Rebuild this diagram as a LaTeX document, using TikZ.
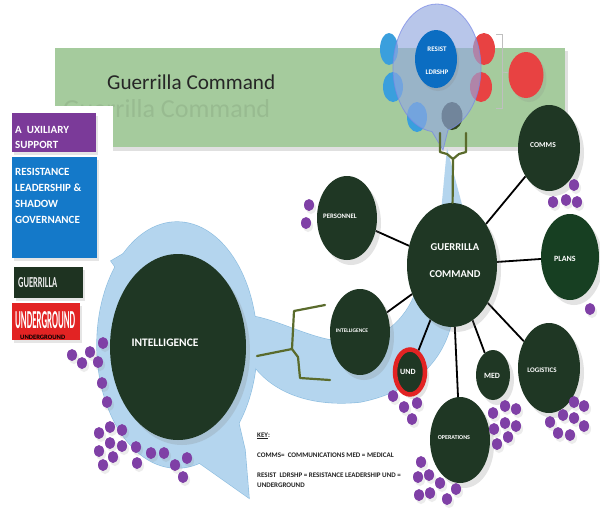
\documentclass[tikz,border=0pt]{standalone}
\usepackage{fontspec}
\setmainfont{Carlito}
\usetikzlibrary{shapes.geometric,shadows}
\definecolor{bannergreen}{HTML}{A5CB9D}
\definecolor{dkgreen}{HTML}{1F3724}
\definecolor{plansgreen}{HTML}{173F22}
\definecolor{purp}{HTML}{7F40A6}
\definecolor{ltblue}{HTML}{B4D5EE}
\definecolor{ltblueline}{HTML}{8CBDE0}
\definecolor{olivec}{HTML}{5A6B2C}
\definecolor{legpurple}{HTML}{7B3A99}
\definecolor{legblue}{HTML}{1479C9}
\definecolor{leggreen}{HTML}{1E3321}
\definecolor{legred}{HTML}{E22323}
\definecolor{rblue}{HTML}{3A9FDD}
\definecolor{rred}{HTML}{E84242}
\definecolor{resblue}{HTML}{0B6DC2}
\definecolor{bubblec}{HTML}{93A8E0}
\definecolor{keytext}{HTML}{222222}
\pgfdeclarelayer{back}
\pgfdeclarelayer{lines}
\pgfsetlayers{back,lines,main}
\begin{document}
\begin{tikzpicture}[x=1pt,y=-1pt,
  blob/.style={ellipse, fill=dkgreen, inner sep=0pt, drop shadow={shadow xshift=4pt, shadow yshift=-5pt, opacity=0.22}},
  lbl/.style={text=white, inner sep=0pt},
  conn/.style={draw=black, line width=1.8pt},
  bracel/.style={draw=olivec, line width=2.2pt, line join=round, line cap=round},
  dotp/.style={ellipse, fill=purp, inner sep=0pt, minimum width=10pt, minimum height=12pt, drop shadow={shadow xshift=2pt, shadow yshift=-3pt, opacity=0.15}},
  smc/.style={ellipse, inner sep=0pt},
  legbox/.style={rectangle, anchor=north west, inner sep=0pt, drop shadow={shadow xshift=2pt, shadow yshift=-3pt, opacity=0.2}},
  legtxt/.style={anchor=base west, inner sep=0pt, text=white, font=\bfseries\fontsize{11}{12}\selectfont},
  keyt/.style={anchor=base west, inner sep=0pt, text=keytext, font=\bfseries\fontsize{7}{7}\selectfont}
]
\useasboundingbox (0,0) rectangle (600,517);
\begin{pgfonlayer}{back}
  \fill[white] (0,0) rectangle (600,517);
  \fill[black, opacity=0.12] (58,51) rectangle (568,151);
  \fill[bannergreen] (55,48) rectangle (565,147);
  \node[anchor=base west, inner sep=0pt, text=black!60!bannergreen, opacity=0.13] (ghost) at (63,117) {\resizebox{207pt}{18pt}{Guerrilla Command}};
  % big light-blue callout: outline first, then fill
  \begin{scope}[draw=ltblueline, line width=1.2pt]
    \draw (177,345) ellipse [x radius=80, y radius=123];
    \draw (123,254) -- (111,261) -- (116,268) -- cycle;
    \draw (198,462) -- (249,498) -- (245,450) -- (238,420) -- cycle;
    \draw (252,316) .. controls (285,322) and (315,342) .. (350,342) .. controls (385,342) and (410,315) .. (418,285) -- (452,320) .. controls (445,355) and (420,390) .. (360,402) .. controls (300,408) and (265,385) .. (250,360) -- cycle;
  \end{scope}
  \begin{scope}[fill=ltblue]
    \fill (177,345) ellipse [x radius=80, y radius=123];
    \fill (123,254) -- (111,261) -- (116,268) -- cycle;
    \fill (198,462) -- (249,498) -- (245,450) -- (238,420) -- cycle;
    \fill (252,316) .. controls (285,322) and (315,342) .. (350,342) .. controls (385,342) and (410,315) .. (418,285) -- (452,320) .. controls (445,355) and (420,390) .. (360,402) .. controls (300,408) and (265,385) .. (250,360) -- cycle;
    \fill (447,148) -- (441,212) -- (464,212) -- cycle;
  \end{scope}
\end{pgfonlayer}

% title
\node[anchor=base west, inner sep=0pt, text=black!85] (title) at (107,89) {\resizebox{168pt}{!}{Guerrilla Command}};

% legend
\fill[white] (10,106) rectangle (113,152);
\node[legbox, fill=legpurple, minimum width=84pt, minimum height=39pt] (legaux) at (12,113) {};
\node[legtxt] (legaux1) at (15,133) {A\ \ UXILIARY};
\node[legtxt] (legaux2) at (15,148) {SUPPORT};
\node[legbox, fill=legblue, minimum width=85pt, minimum height=101pt] (legres) at (12,157) {};
\node[legtxt] (legres1) at (15,175.5) {RESISTANCE};
\node[legtxt] (legres2) at (15,191.5) {LEADERSHIP \&};
\node[legtxt] (legres3) at (15,207.5) {SHADOW};
\node[legtxt] (legres4) at (15,223) {GOVERNANCE};
\node[legbox, fill=leggreen, minimum width=69pt, minimum height=31pt] (leggue) at (14,267) {};
\node[anchor=base west, inner sep=0pt, text=white!85!gray] (leggue1) at (18,287.5) {\resizebox{39pt}{10pt}{\bfseries GUERRILLA}};
\node[legbox, fill=legred, minimum width=68pt, minimum height=37pt] (legund) at (12,303) {};
\node[anchor=base west, inner sep=0pt, text=white] (legund1) at (15,328) {\resizebox{60pt}{17pt}{\bfseries UNDERGROUND}};
\node[anchor=base west, inner sep=0pt, text=black] (legund2) at (20,339.5) {\resizebox{45pt}{!}{\bfseries UNDERGROUND}};

% resistance leadership group
\node[smc, fill=rblue, minimum width=18pt, minimum height=32pt] (rc1) at (389,49) {};
\node[smc, fill=rblue, minimum width=20pt, minimum height=30pt] (rc2) at (393,87) {};
\node[smc, fill=rblue, minimum width=20pt, minimum height=30pt] (rc3) at (417,117) {};
\node[smc, fill=dkgreen!80!olive, minimum width=21pt, minimum height=28pt] (rc4) at (452,116) {};
\node[smc, fill=rred, minimum width=22pt, minimum height=32pt] (rr1) at (484,49) {};
\node[smc, fill=rred, minimum width=22pt, minimum height=30pt] (rr2) at (481,87) {};
\node[smc, fill=rred, minimum width=35pt, minimum height=46pt, drop shadow={shadow xshift=3pt, shadow yshift=-4pt, opacity=0.15}] (rr3) at (526,75) {};
\filldraw[fill=bubblec, draw=bubblec!80!blue, fill opacity=0.65, draw opacity=0.7, line width=0.8pt] (448,130) -- (443,150) -- (432,131.6) arc[start angle=96.5, end angle=435.5, x radius=44, y radius=64] -- cycle;
\node[smc, fill=resblue, minimum width=42pt, minimum height=58pt, drop shadow={shadow xshift=2pt, shadow yshift=-3pt, opacity=0.2}] (resist) at (436,59) {};
\node[lbl, align=center, font=\bfseries\fontsize{7}{23}\selectfont] (tresist) at (437,61) {RESIST\\LDRSHP};
\coordinate (brt) at (496,34);
\coordinate (brb) at (496,108);
\draw[gray!50, line width=0.8pt] (brt) -- (502,34) -- (502,108) -- (brb);
\draw[gray!50, line width=0.8pt] (502,72) -- (rr3);

% main bubbles
\node[blob, minimum width=136pt, minimum height=186pt] (bigintel) at (178,347) {};
\node[lbl, font=\bfseries\fontsize{11.5}{12}\selectfont] (tbigintel) at (165,343) {INTELLIGENCE};
\node[blob, minimum width=90pt, minimum height=124pt] (hub) at (452,265) {};
\node[lbl, align=center, font=\bfseries\fontsize{10.5}{27}\selectfont] (thub) at (455,261) {GUERRILLA\\COMMAND};
\node[blob, minimum width=60pt, minimum height=84pt] (personnel) at (347,218) {};
\node[lbl, font=\bfseries\fontsize{6.8}{7}\selectfont] (tpersonnel) at (340,216) {PERSONNEL};
\node[blob, minimum width=60pt, minimum height=86pt] (smallintel) at (360,332) {};
\node[lbl, font=\bfseries\fontsize{5.5}{6}\selectfont] (tsmallintel) at (352,331) {INTELLIGENCE};
\node[blob, fill=plansgreen, minimum width=58pt, minimum height=86pt] (plans) at (570,257) {};
\node[lbl, font=\bfseries\fontsize{8}{8}\selectfont] (tplans) at (565,259) {PLANS};
\node[blob, minimum width=62pt, minimum height=86pt] (comms) at (549,148) {};
\node[lbl, font=\bfseries\fontsize{7.5}{8}\selectfont] (tcomms) at (543,145) {COMMS};
\node[blob, minimum width=62pt, minimum height=90pt] (logistics) at (549,368) {};
\node[lbl, font=\bfseries\fontsize{7}{7}\selectfont] (tlogistics) at (542,370) {LOGISTICS};
\node[blob, minimum width=34pt, minimum height=50pt] (med) at (493,375) {};
\node[lbl, font=\bfseries\fontsize{8}{8}\selectfont] (tmed) at (492,376) {MED};
\node[blob, minimum width=60pt, minimum height=86pt] (ops) at (460,440) {};
\node[lbl, font=\bfseries\fontsize{6}{6}\selectfont] (tops) at (454,438) {OPERATIONS};
\node[blob, draw=legred, line width=4.5pt, minimum width=30pt, minimum height=45pt] (und) at (410,372) {};
\node[lbl, font=\bfseries\fontsize{8}{8}\selectfont] (tund) at (408,372) {UND};

% connectors
\begin{pgfonlayer}{lines}
  \draw[conn] (hub) -- (personnel);
  \draw[conn] (hub) -- (smallintel);
  \draw[conn] (hub) -- (comms);
  \draw[conn] (hub) -- (plans);
  \draw[conn] (hub) -- (logistics);
  \draw[conn] (hub) -- (med);
  \draw[conn] (hub) -- (ops);
  \draw[conn] (hub) -- (und);
\end{pgfonlayer}

% olive brackets
\coordinate (yl) at (440,133);
\coordinate (yr) at (466,133);
\coordinate (yj) at (453,159);
\draw[bracel] (yl) -- (440,152) -- (447,154) -- (yj);
\draw[bracel] (yr) -- (466,152) -- (459,154) -- (yj);
\draw[bracel] (yj) -- (hub);
\coordinate (bs) at (257,356);
\coordinate (bj) at (292,349);
\coordinate (btop) at (325,305);
\coordinate (bbot) at (330,380);
\draw[bracel] (btop) -- (294,311) -- (bj) -- (298,357) -- (300,378) -- (bbot);
\draw[bracel] (bs) -- (bj);

% purple dots
\foreach \x/\y [count=\i] in {309/205, 306/223,
  574/185, 553/202, 566/200, 577/202, 590/309,
  393/396, 404/407, 417/403, 412/419,
  493/413, 505/406, 516/409, 494/429, 505/423, 516/426, 508/437, 497/444,
  574/402, 584/406, 563/415, 574/418, 550/422, 584/426, 558/433, 570/435,
  421/462, 418/477, 429/475, 440/483, 456/489, 419/495, 430/493, 447/499,
  103/343, 90/352, 72/355, 82/363, 98/362, 102/383, 107/402, 110/427, 122/430, 99/433,
  110/443, 122/446, 136/447, 99/451, 113/457, 103/465, 137/463, 151/453, 164/453,
  175/465, 187/458, 183/477}
  \node[dotp] (dot\i) at (\x,\y) {};

% key
\node[keyt] (key0) at (257,437) {\underline{KEY}:};
\node[keyt] (key1) at (257,457) {COMMS=\ \ COMMUNICATIONS MED = MEDICAL};
\node[keyt] (key2) at (257,477) {RESIST\ \ LDRSHP = RESISTANCE LEADERSHIP UND =};
\node[keyt] (key3) at (257,487) {UNDERGROUND};
\end{tikzpicture}
\end{document}
